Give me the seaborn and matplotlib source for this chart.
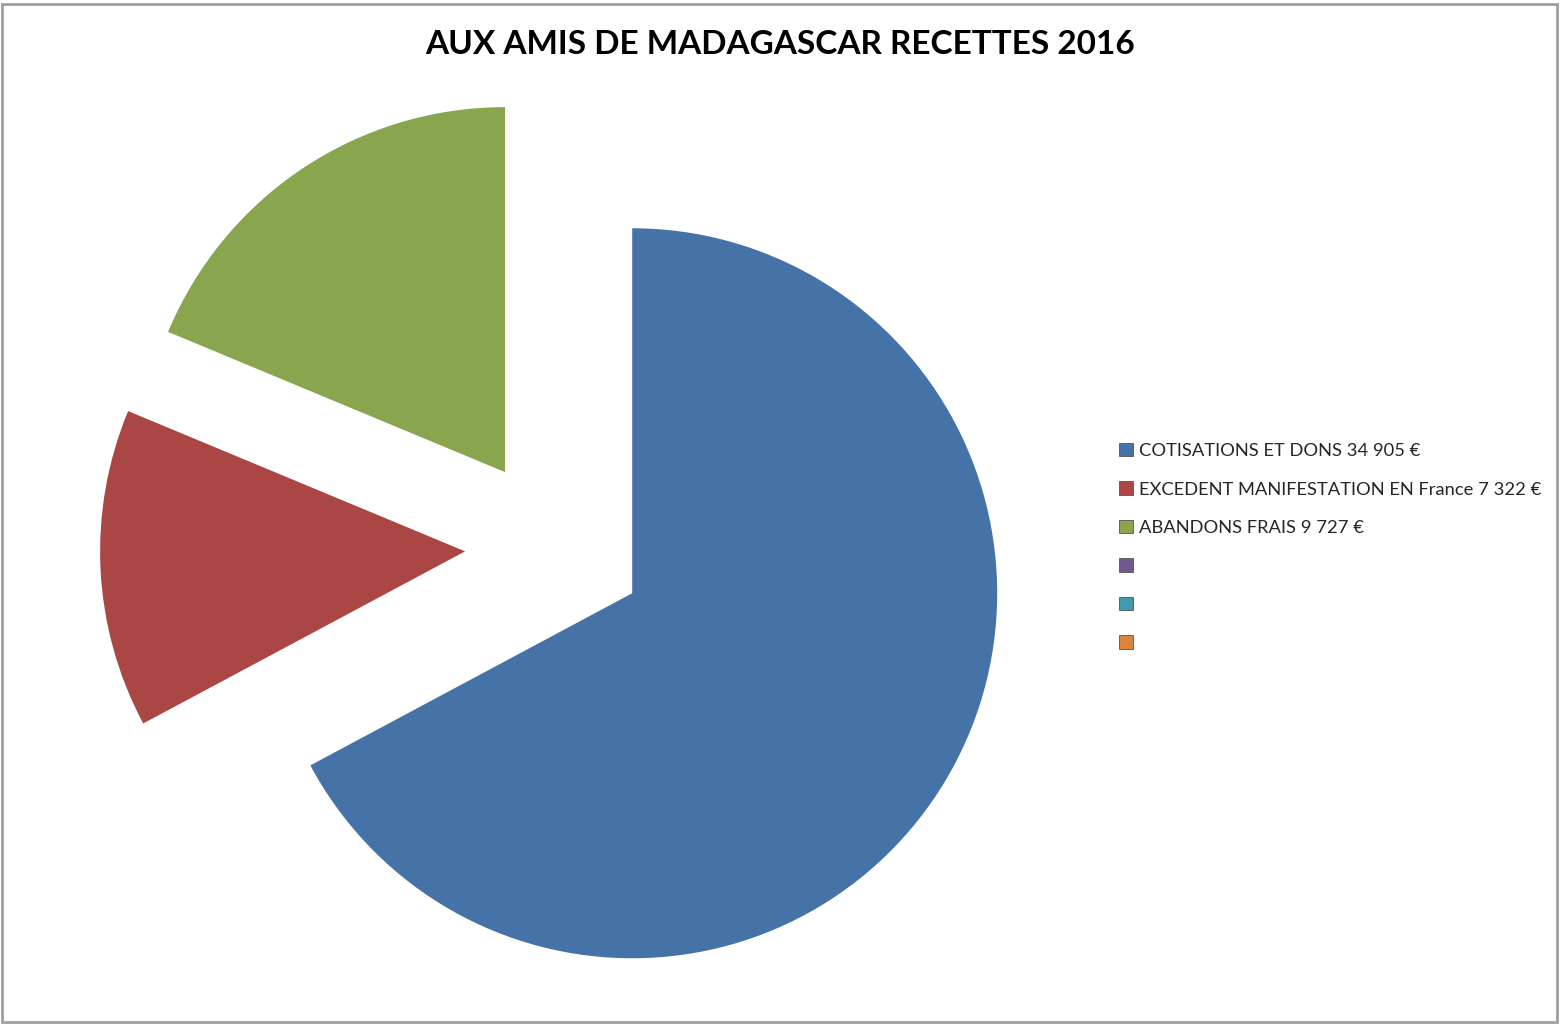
import matplotlib
matplotlib.use("Agg")
import matplotlib.pyplot as plt
import matplotlib.patches as mpatches
import seaborn as sns

# Data
categories = ["COTISATIONS ET DONS", "EXCEDENT MANIFESTATION EN France", "ABANDONS FRAIS"]
values = [34905, 7322, 9727]
legend_labels = ["COTISATIONS ET DONS 34 905 €",
                 "EXCEDENT MANIFESTATION EN France 7 322 €",
                 "ABANDONS FRAIS 9 727 €", " ", " ", " "]
colors = ["#4572A7", "#AA4643", "#89A54E", "#71588F", "#4198AF", "#DB843D"]
title = "AUX AMIS DE MADAGASCAR RECETTES 2016"

sns.set_theme(style="white")
plt.rcParams['font.family'] = ['Lato', 'DejaVu Sans']

W, H = 1560, 1025
fig = plt.figure(figsize=(W / 100, H / 100), dpi=100)
ax = fig.add_axes([0, 0, 1, 1])

R = 365
ax.pie(values, colors=colors[:3], startangle=90, counterclock=False,
       radius=R, center=(555, H - 547), explode=[90] * 3,
       wedgeprops=dict(linewidth=0))
ax.set_xlim(0, W)
ax.set_ylim(0, H)
ax.set_aspect('equal')
ax.axis('off')

# border
fig.patches.append(mpatches.Rectangle((1.5 / W, 3.5 / H), (1557 - 1.5) / W, (1021 - 3.5) / H,
                                      transform=fig.transFigure, fill=False,
                                      edgecolor="#a0a0a0", linewidth=2))

fig.text(780 / W, 1 - 44 / H, title, ha='center', va='center',
         fontsize=24, fontweight='bold', color='black')

handles = [mpatches.Patch(facecolor=c, edgecolor='#555555', linewidth=0.6) for c in colors]
leg = fig.legend(handles, legend_labels, loc='upper left',
                 bbox_to_anchor=(1119 / W, 1 - 443 / H), frameon=False,
                 fontsize=13.2, handlelength=0.75, handleheight=0.75,
                 handletextpad=0.35, labelspacing=1.22, borderpad=0, borderaxespad=0)

fig.savefig("out.png", dpi=100, facecolor='white')
